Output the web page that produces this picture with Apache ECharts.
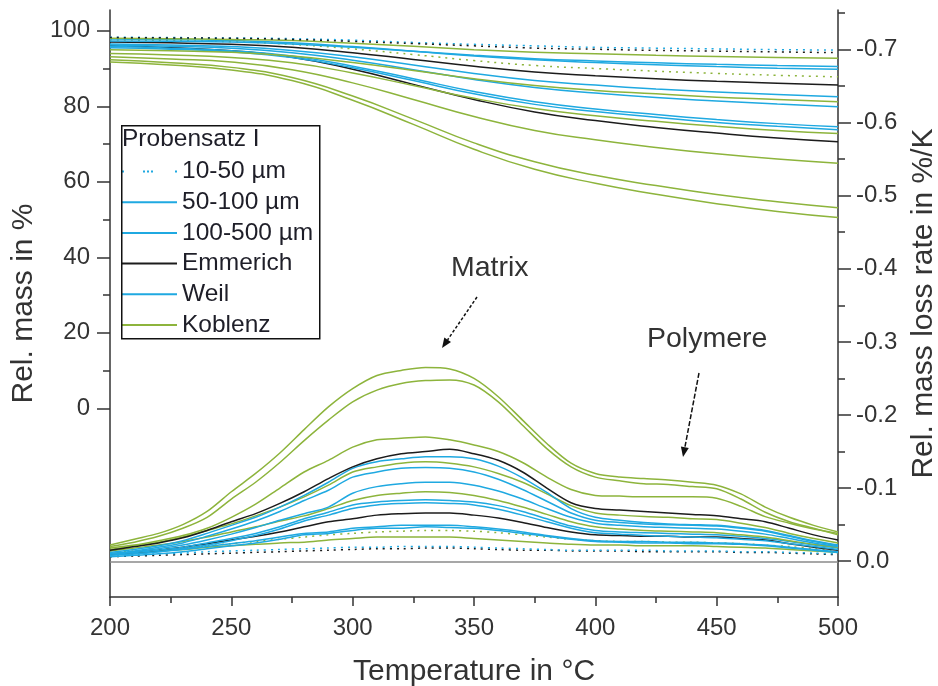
<!DOCTYPE html>
<html><head><meta charset="utf-8">
<script src="https://cdn.jsdelivr.net/npm/echarts@6/dist/echarts.min.js"></script>
<style>html,body{margin:0;padding:0;background:#fff}#c{width:938px;height:686px}</style>
</head><body><div id="c"></div><script>
// ---- axes / categories ----
const temps10 = [200,210,220,230,240,250,260,270,280,290,300,310,320,330,340,350,360,370,380,390,400,410,420,430,440,450,460,470,480,490,500];
const temps25 = [200,225,250,275,300,325,350,375,400,425,450,475,500];
const massTicks = [0,20,40,60,80,100];
const massMinorTicks = [10,30,50,70,90];
const rateTicks = [0,-0.1,-0.2,-0.3,-0.4,-0.5,-0.6,-0.7];
const rateMinorTicks = [-0.05,-0.15,-0.25,-0.35,-0.45,-0.55,-0.65,-0.75];
const legendNames = ['10-50 µm','50-100 µm','100-500 µm','Emmerich','Weil','Koblenz'];

// ---- TG: rel. mass in % (at temps25) ----
const tg01 = [91.7,90.9,89.6,86.8,81.6,75.2,68.6,63.3,59.6,56.7,54.2,52.1,50.5];
const tg02 = [92.3,91.5,90.3,87.6,82.7,76.6,70.3,65.3,61.7,59.0,56.6,54.7,53.1];
const tg03 = [93.1,92.5,91.7,89.7,86.2,81.8,77.3,73.6,71.1,69.1,67.4,66.0,64.9];
const tg04 = [96.0,95.5,94.7,93.0,89.8,85.8,81.8,78.5,76.2,74.4,72.9,71.6,70.6];
const tg05 = [94.0,93.6,92.9,91.5,88.8,85.5,82.1,79.4,77.5,76.0,74.7,73.6,72.8];
const tg06 = [95.8,95.4,94.7,93.3,90.6,87.3,83.9,81.2,79.3,77.8,76.5,75.4,74.6];
const tg07 = [95.5,95.1,94.4,92.9,90.2,86.8,83.3,80.5,78.6,77.1,75.7,74.7,73.8];
const tg08 = [96.2,95.9,95.4,94.2,92.2,89.7,87.1,85.0,83.5,82.3,81.4,80.6,79.9];
const tg09 = [95.0,94.7,94.3,93.3,91.6,89.5,87.3,85.5,84.2,83.3,82.4,81.8,81.2];
const tg10 = [96.5,96.2,95.8,94.8,93.1,90.9,88.7,86.8,85.6,84.6,83.8,83.1,82.5];
const tg11 = [97.0,96.8,96.4,95.6,94.2,92.4,90.6,89.1,88.1,87.3,86.6,86.1,85.6];
const tg12 = [97.6,97.4,97.1,96.4,95.2,93.7,92.1,90.8,90.0,89.3,88.7,88.2,87.8];
const tg13 = [97.3,97.2,97.0,96.5,95.6,94.6,93.5,92.6,92.0,91.5,91.1,90.8,90.5];
const tg14 = [97.8,97.6,97.4,96.8,95.8,94.6,93.3,92.3,91.6,91.0,90.5,90.1,89.8];
const tg15 = [98.0,97.9,97.7,97.4,96.7,95.9,95.0,94.3,93.9,93.5,93.2,92.9,92.7];
const tg16 = [98.3,98.2,98.1,97.9,97.5,96.9,96.4,96.0,95.6,95.4,95.2,95.0,94.9];
const tg17 = [98.2,98.1,98.0,97.7,97.2,96.6,96.0,95.4,95.1,94.8,94.6,94.4,94.2];

// ---- DTG: rel. mass loss rate in %/K (at temps10) ----
const dtg01 = [-0.022,-0.030,-0.038,-0.050,-0.068,-0.095,-0.120,-0.148,-0.180,-0.211,-0.236,-0.254,-0.261,-0.265,-0.263,-0.250,-0.225,-0.193,-0.161,-0.134,-0.120,-0.115,-0.113,-0.111,-0.108,-0.104,-0.092,-0.074,-0.060,-0.049,-0.040];
const dtg02 = [-0.020,-0.026,-0.034,-0.045,-0.060,-0.085,-0.108,-0.135,-0.165,-0.193,-0.218,-0.234,-0.243,-0.247,-0.248,-0.241,-0.218,-0.186,-0.154,-0.129,-0.115,-0.110,-0.106,-0.105,-0.102,-0.099,-0.085,-0.067,-0.054,-0.045,-0.036];
const dtg03 = [-0.018,-0.022,-0.028,-0.035,-0.045,-0.060,-0.078,-0.100,-0.122,-0.138,-0.156,-0.166,-0.168,-0.170,-0.166,-0.159,-0.150,-0.135,-0.115,-0.098,-0.090,-0.089,-0.088,-0.088,-0.088,-0.086,-0.075,-0.061,-0.052,-0.044,-0.038];
const dtg04 = [-0.015,-0.020,-0.025,-0.032,-0.042,-0.054,-0.065,-0.079,-0.095,-0.113,-0.129,-0.140,-0.147,-0.150,-0.153,-0.147,-0.138,-0.122,-0.100,-0.080,-0.072,-0.070,-0.068,-0.066,-0.064,-0.062,-0.058,-0.054,-0.045,-0.036,-0.029];
const dtg05 = [-0.012,-0.016,-0.021,-0.028,-0.038,-0.049,-0.060,-0.074,-0.090,-0.108,-0.127,-0.136,-0.140,-0.143,-0.143,-0.140,-0.130,-0.114,-0.094,-0.072,-0.060,-0.056,-0.053,-0.051,-0.050,-0.049,-0.046,-0.042,-0.035,-0.028,-0.022];
const dtg06 = [-0.016,-0.021,-0.026,-0.033,-0.042,-0.051,-0.062,-0.074,-0.088,-0.104,-0.122,-0.129,-0.134,-0.136,-0.134,-0.129,-0.120,-0.108,-0.092,-0.076,-0.066,-0.063,-0.061,-0.060,-0.058,-0.057,-0.052,-0.046,-0.038,-0.031,-0.025];
const dtg07 = [-0.010,-0.014,-0.019,-0.025,-0.034,-0.044,-0.055,-0.068,-0.083,-0.097,-0.115,-0.122,-0.127,-0.128,-0.127,-0.122,-0.112,-0.098,-0.082,-0.066,-0.056,-0.053,-0.051,-0.050,-0.049,-0.048,-0.045,-0.041,-0.034,-0.027,-0.021];
const dtg08 = [-0.010,-0.013,-0.017,-0.022,-0.029,-0.037,-0.046,-0.056,-0.065,-0.074,-0.093,-0.102,-0.106,-0.108,-0.108,-0.104,-0.096,-0.085,-0.072,-0.060,-0.052,-0.049,-0.047,-0.046,-0.045,-0.044,-0.041,-0.037,-0.031,-0.025,-0.020];
const dtg09 = [-0.014,-0.018,-0.022,-0.027,-0.033,-0.040,-0.047,-0.055,-0.062,-0.072,-0.083,-0.090,-0.093,-0.095,-0.094,-0.090,-0.083,-0.074,-0.064,-0.054,-0.047,-0.044,-0.042,-0.041,-0.040,-0.039,-0.036,-0.033,-0.028,-0.023,-0.019];
const dtg10 = [-0.010,-0.012,-0.015,-0.019,-0.025,-0.031,-0.038,-0.047,-0.058,-0.067,-0.077,-0.081,-0.083,-0.084,-0.083,-0.081,-0.076,-0.068,-0.058,-0.048,-0.042,-0.040,-0.039,-0.038,-0.037,-0.036,-0.034,-0.031,-0.027,-0.022,-0.018];
const dtg11 = [-0.008,-0.010,-0.013,-0.017,-0.022,-0.028,-0.035,-0.044,-0.055,-0.063,-0.072,-0.077,-0.079,-0.080,-0.079,-0.077,-0.071,-0.063,-0.054,-0.045,-0.039,-0.037,-0.035,-0.034,-0.033,-0.032,-0.030,-0.028,-0.024,-0.020,-0.016];
const dtg12 = [-0.010,-0.012,-0.015,-0.019,-0.024,-0.029,-0.034,-0.040,-0.047,-0.054,-0.058,-0.063,-0.065,-0.066,-0.066,-0.063,-0.059,-0.053,-0.046,-0.040,-0.036,-0.035,-0.034,-0.034,-0.033,-0.033,-0.031,-0.029,-0.024,-0.019,-0.015];
const dtg13 = [-0.008,-0.010,-0.013,-0.016,-0.020,-0.024,-0.028,-0.033,-0.038,-0.040,-0.045,-0.047,-0.049,-0.049,-0.049,-0.047,-0.044,-0.040,-0.035,-0.031,-0.028,-0.027,-0.027,-0.026,-0.026,-0.025,-0.024,-0.022,-0.019,-0.016,-0.013];
const dtg14 = [-0.006,-0.008,-0.010,-0.013,-0.017,-0.021,-0.025,-0.030,-0.036,-0.038,-0.042,-0.045,-0.045,-0.047,-0.046,-0.045,-0.042,-0.038,-0.034,-0.030,-0.027,-0.026,-0.025,-0.025,-0.024,-0.024,-0.023,-0.021,-0.018,-0.015,-0.012];
const dtg15 = [-0.012,-0.014,-0.016,-0.018,-0.021,-0.024,-0.027,-0.030,-0.033,-0.036,-0.038,-0.040,-0.041,-0.042,-0.042,-0.041,-0.039,-0.036,-0.033,-0.030,-0.028,-0.027,-0.027,-0.026,-0.026,-0.025,-0.024,-0.022,-0.020,-0.017,-0.014];
const dtg16 = [-0.010,-0.012,-0.014,-0.016,-0.019,-0.021,-0.023,-0.025,-0.026,-0.029,-0.031,-0.033,-0.033,-0.033,-0.033,-0.031,-0.029,-0.027,-0.025,-0.023,-0.022,-0.022,-0.021,-0.021,-0.021,-0.020,-0.019,-0.018,-0.016,-0.014,-0.012];
const dtg17 = [-0.008,-0.009,-0.010,-0.011,-0.013,-0.014,-0.015,-0.016,-0.017,-0.018,-0.019,-0.019,-0.020,-0.020,-0.020,-0.019,-0.018,-0.017,-0.016,-0.015,-0.015,-0.015,-0.015,-0.014,-0.014,-0.014,-0.013,-0.013,-0.012,-0.011,-0.010];
const dtg18 = [-0.006,-0.007,-0.008,-0.009,-0.010,-0.011,-0.012,-0.013,-0.014,-0.015,-0.016,-0.017,-0.017,-0.018,-0.018,-0.017,-0.016,-0.015,-0.015,-0.014,-0.014,-0.014,-0.013,-0.013,-0.013,-0.013,-0.012,-0.012,-0.011,-0.010,-0.009];
const dtgBlank = [0.001,0.001,0.001,0.001,0.001,0.001,0.001,0.001,0.001,0.001,0.001,0.001,0.001,0.001,0.001,0.001,0.001,0.001,0.001,0.001,0.001,0.001,0.001,0.001,0.001,0.001,0.001,0.001,0.001,0.001,0.001];

// ---- styles ----
const CYAN = '#1fa9e1', GREEN = '#8db43c', BLACK = '#1c1c1c', GRAY = '#8a8a8a';
const DOT = [2, 5];
const FONT = 'Liberation Sans, Arial, sans-serif';
const LINE_ICON = 'path://M0,0H55V2H0Z';
const DOT_ICON = 'path://M0,0H2V2H0Z M21,0H23V2H21Z M25,0H27V2H25Z M29,0H31V2H29Z M53,0H55V2H53Z';

const tgCurves = [
  [tg01, GREEN, 'solid'], [tg02, GREEN, 'solid'], [tg03, GREEN, 'solid'], [tg04, BLACK, 'solid'],
  [tg05, GREEN, 'solid'], [tg06, CYAN, 'solid'], [tg07, CYAN, 'solid'], [tg08, CYAN, 'solid'],
  [tg09, GREEN, 'solid'], [tg10, CYAN, 'solid'], [tg11, BLACK, 'solid'], [tg12, GREEN, DOT],
  [tg13, CYAN, 'solid'], [tg14, CYAN, 'solid'], [tg15, GREEN, 'solid'], [tg16, CYAN, DOT], [tg17, BLACK, DOT]
];
const dtgCurves = [
  [dtgBlank, GRAY, 'solid'],
  [dtg18, BLACK, DOT], [dtg17, CYAN, DOT], [dtg16, GREEN, 'solid'], [dtg15, GREEN, DOT],
  [dtg14, CYAN, 'solid'], [dtg13, CYAN, 'solid'], [dtg12, BLACK, 'solid'], [dtg11, CYAN, 'solid'],
  [dtg10, CYAN, 'solid'], [dtg09, GREEN, 'solid'], [dtg08, CYAN, 'solid'], [dtg07, CYAN, 'solid'],
  [dtg06, GREEN, 'solid'], [dtg05, CYAN, 'solid'], [dtg04, BLACK, 'solid'], [dtg03, GREEN, 'solid'],
  [dtg02, GREEN, 'solid'], [dtg01, GREEN, 'solid']
];
const legendStyles = [[CYAN, DOT_ICON], [CYAN, LINE_ICON], [CYAN, LINE_ICON], [BLACK, LINE_ICON], [CYAN, LINE_ICON], [GREEN, LINE_ICON]];

const series = [];
tgCurves.forEach(function (c, i) {
  series.push({
    name: 'TG ' + (i + 1), type: 'line', xAxisIndex: 0, yAxisIndex: 0, smooth: true,
    symbol: 'none', silent: true,
    data: temps25.map(function (t, k) { return [t, c[0][k]]; }),
    lineStyle: { color: c[1], type: c[2], width: 1.5 }
  });
});
dtgCurves.forEach(function (c, i) {
  series.push({
    name: 'DTG ' + i, type: 'line', xAxisIndex: 0, yAxisIndex: 2, smooth: 0.3,
    symbol: 'none', silent: true,
    data: temps10.map(function (t, k) { return [t, c[0][k]]; }),
    lineStyle: { color: c[1], type: c[2], width: 1.5 }
  });
});
legendNames.forEach(function (n, i) {
  series.push({
    name: n, type: 'line', yAxisIndex: 0, symbol: 'none', data: [],
    itemStyle: { color: legendStyles[i][0] },
    lineStyle: { color: legendStyles[i][0], width: 1.8 }
  });
});

const axisCol = '#333';
const chart = echarts.init(document.getElementById('c'));
chart.setOption({
  animation: false,
  textStyle: { fontFamily: FONT },
  grid: { left: 110, right: 100, top: 10, bottom: 89, outerBoundsMode: 'none', containLabel: false },
  xAxis: {
    type: 'value', min: 200, max: 500, interval: 50,
    axisLine: { onZero: false, lineStyle: { color: axisCol, width: 1.5 } },
    axisTick: { length: 9, lineStyle: { color: axisCol, width: 1.5 } },
    minorTick: { show: true, splitNumber: 2, length: 6, lineStyle: { color: axisCol, width: 1.5 } },
    splitLine: { show: false },
    axisLabel: { fontSize: 24, color: axisCol, margin: 19, fontFamily: FONT },
    name: 'Temperature in °C', nameLocation: 'middle', nameGap: 60,
    nameTextStyle: { fontSize: 30, color: axisCol, fontFamily: FONT }
  },
  yAxis: [
    {
      type: 'value', position: 'left', min: -50, max: 105.5,
      axisLine: { show: true, onZero: false, lineStyle: { color: axisCol, width: 1.5 } },
      axisTick: { show: true, customValues: massTicks, length: 13, lineStyle: { color: axisCol, width: 1.5 } },
      axisLabel: { customValues: massTicks, fontSize: 24, color: axisCol, margin: 20, fontFamily: FONT },
      splitLine: { show: false },
      name: 'Rel. mass in %', nameLocation: 'middle', nameGap: 63,
      nameTextStyle: { fontSize: 30, color: axisCol, fontFamily: FONT }
    },
    {
      type: 'value', position: 'left', min: -50, max: 105.5,
      axisLine: { show: false, onZero: false },
      axisTick: { show: true, customValues: massMinorTicks, length: 7, lineStyle: { color: axisCol, width: 1.5 } },
      axisLabel: { show: false }, splitLine: { show: false }
    },
    {
      type: 'value', position: 'right', min: -0.754, max: 0.049, inverse: true,
      axisLine: { show: true, onZero: false, lineStyle: { color: axisCol, width: 1.5 } },
      axisTick: { show: true, customValues: rateTicks, length: 13, lineStyle: { color: axisCol, width: 1.5 } },
      axisLabel: { customValues: rateTicks, fontSize: 24, color: axisCol, margin: 18, fontFamily: FONT,
        formatter: function (v) { return (Math.abs(v) < 1e-9 ? 0 : v).toFixed(1); } },
      splitLine: { show: false },
      name: 'Rel. mass loss rate in %/K', nameLocation: 'middle', nameGap: 68,
      nameTextStyle: { fontSize: 30, color: axisCol, fontFamily: FONT }
    },
    {
      type: 'value', position: 'right', min: -0.754, max: 0.049, inverse: true,
      axisLine: { show: false, onZero: false },
      axisTick: { show: true, customValues: rateMinorTicks, length: 7, lineStyle: { color: axisCol, width: 1.5 } },
      axisLabel: { show: false }, splitLine: { show: false }
    }
  ],
  legend: {
    data: legendNames.map(function (n, i) { return { name: n, icon: legendStyles[i][1] }; }),
    orient: 'vertical', left: 122, top: 159,
    itemWidth: 55, itemHeight: 2, itemGap: 5.7, padding: 0, selectedMode: false,
    textStyle: { fontSize: 24.5, color: '#1e1e28', lineHeight: 24, fontFamily: FONT }
  },
  graphic: [
    { type: 'rect', left: 121, top: 125, shape: { width: 198, height: 213 },
      style: { fill: 'rgba(255,255,255,0)', stroke: '#111', lineWidth: 1.5 }, z: 10 },
    { type: 'text', left: 122, top: 127, style: { text: 'Probensatz I', font: '24.5px ' + FONT, fill: '#1e1e28' }, z: 11 },
    { type: 'text', left: 451, top: 254, style: { text: 'Matrix', font: '28.5px ' + FONT, fill: '#333' }, z: 11 },
    { type: 'text', left: 647, top: 325, style: { text: 'Polymere', font: '28.5px ' + FONT, fill: '#333' }, z: 11 },
    { type: 'line', shape: { x1: 477, y1: 297, x2: 447.6, y2: 339.8 },
      style: { stroke: '#111', lineWidth: 1.5, lineDash: [3, 2] }, z: 11 },
    { type: 'polygon', shape: { points: [[442, 348], [451, 342], [444.3, 337.5]] },
      style: { fill: '#111' }, z: 11 },
    { type: 'line', shape: { x1: 699, y1: 373, x2: 684.9, y2: 447.2 },
      style: { stroke: '#111', lineWidth: 1.5, lineDash: [5, 2] }, z: 11 },
    { type: 'polygon', shape: { points: [[683, 457], [688.8, 447.9], [680.9, 446.4]] },
      style: { fill: '#111' }, z: 11 }
  ],
  series: series
});
</script></body></html>
